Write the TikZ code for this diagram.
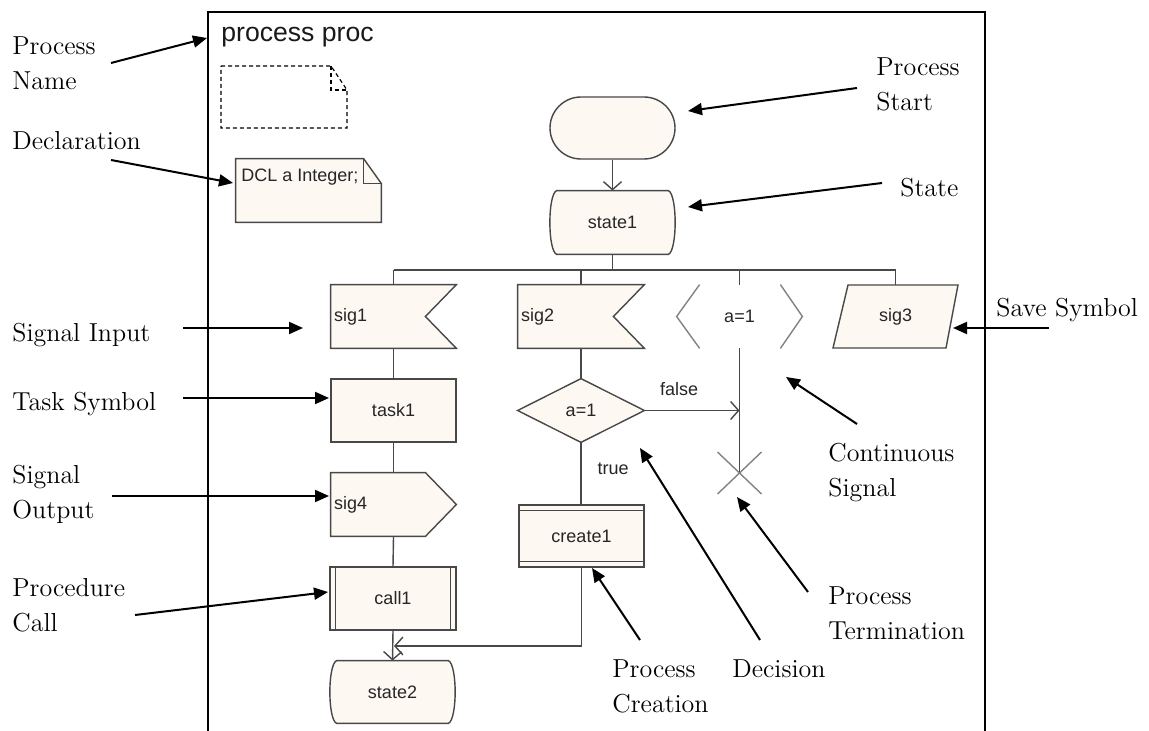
\documentclass[tikz,border=0pt]{standalone}
\usepackage{fontspec}
\newfontfamily\diagfont{Liberation Sans}
\usetikzlibrary{arrows.meta,shapes.geometric,calc}
\definecolor{cream}{RGB}{253,248,242}
\definecolor{edge}{RGB}{72,72,72}
\definecolor{lightedge}{RGB}{130,130,130}
\begin{document}
\begin{tikzpicture}[x=0.5pt,y=-0.5pt,
  lab/.style={anchor=north west,inner sep=0pt,align=left,font=\fontsize{13pt}{17.5pt}\selectfont},
  callout/.style={black,line width=1pt,-{Triangle[length=7pt,width=6pt]}},
  sym/.style={draw=edge,fill=cream,line width=0.7pt},
  conn/.style={draw=edge,line width=0.7pt},
  flow/.style={conn,-{Straight Barb[length=4pt,width=9pt]}},
  dtext/.style={font=\diagfont\fontsize{9pt}{11pt}\selectfont,text=black!85},
  holder/.style={inner sep=0pt,draw=none},
  boxnode/.style={sym,dtext,inner sep=0pt}]
\useasboundingbox (0,0) rectangle (1149,731);
\fill[white] (0,0) rectangle (1149,731);

% frame
\draw[black,line width=1pt] (208,731) -- (208,12) -- (985,12) -- (985,731);
\node[anchor=base west,inner sep=0pt,font=\diagfont\fontsize{13.3pt}{15pt}\selectfont,text=black!90] (title) at (221,42) {process proc};

% dashed empty text symbol
\draw[black,line width=0.6pt,dash pattern=on 2pt off 1.5pt] (221,66) -- (331,66) -- (347,90) -- (347,128) -- (221,128) -- cycle;
\draw[black,line width=0.6pt,dash pattern=on 2pt off 1.5pt] (331,66) -- (331,90) -- (347,90);

% declaration
\node[holder,minimum width=72.5pt,minimum height=31.5pt] (dcl) at (308.5,190.5) {};
\draw[sym] (dcl.north west) -- ++(128,0) -- ($(dcl.north east)+(0,25)$) -- (dcl.south east) -- (dcl.south west) -- cycle;
\draw[conn] ($(dcl.north west)+(128,0)$) -- ++(0,25) -- ($(dcl.north east)+(0,25)$);
\node[dtext,anchor=base west,inner sep=0pt] (dcltext) at (241,182) {DCL a Integer;};

% start
\node[sym,rounded corners=15.5pt,minimum width=62.5pt,minimum height=31pt,inner sep=0pt] (start) at (612.5,128) {};

% state1
\node[holder,minimum width=62.5pt,minimum height=31.5pt] (state1) at (612.5,222.5) {};
\draw[sym] ($(state1.north west)+(7,0)$) -- ($(state1.north east)+(-7,0)$)
  .. controls ($(state1.north east)+(2,4)$) and ($(state1.south east)+(2,-4)$) .. ($(state1.south east)+(-7,0)$)
  -- ($(state1.south west)+(7,0)$)
  .. controls ($(state1.south west)+(-2,-4)$) and ($(state1.north west)+(-2,4)$) .. cycle;
\node[dtext] (state1t) at (state1) {state1};
\draw[flow] (start.south) -- (state1.north);

% bus
\coordinate (busL) at (393.5,270);
\coordinate (busR) at (895.5,270);
\draw[conn] (busL) -- (busR);
\draw[conn] (state1.south) -- (state1.south |- busL);

% sig1
\node[holder,minimum width=62.5pt,minimum height=31.5pt] (sig1) at (393.5,316.5) {};
\draw[sym] (sig1.north west) -- (sig1.north east) -- ($(sig1.east)+(-31,0)$) -- (sig1.south east) -- (sig1.south west) -- cycle;
\node[dtext,anchor=west,inner sep=0pt] (sig1t) at ($(sig1.west)+(3,0)$) {sig1};
\draw[conn] (sig1.north |- busL) -- (sig1.north);

% sig2
\node[holder,minimum width=63pt,minimum height=31.5pt] (sig2) at (581,316.5) {};
\draw[sym] (sig2.north west) -- (sig2.north east) -- ($(sig2.east)+(-31,0)$) -- (sig2.south east) -- (sig2.south west) -- cycle;
\node[dtext,anchor=west,inner sep=0pt] (sig2t) at ($(sig2.west)+(3,0)$) {sig2};
\draw[conn] (sig2.north |- busL) -- (sig2.north);

% continuous signal
\node[holder,minimum width=62.5pt,minimum height=31.5pt] (cont) at (739.5,316.5) {};
\draw[lightedge,line width=0.7pt] ($(cont.north west)+(23,0)$) -- (cont.west) -- ($(cont.south west)+(23,0)$);
\draw[lightedge,line width=0.7pt] ($(cont.north east)+(-22,0)$) -- (cont.east) -- ($(cont.south east)+(-22,0)$);
\node[dtext] (contt) at (cont) {a=1};
\draw[conn] (cont.north |- busL) -- (cont.north);
\coordinate (term) at (739.5,473);
\draw[conn] (cont.south) -- (term);
\draw[lightedge,line width=0.7pt] (term) ++(-22,-21) -- ++(44,42);
\draw[lightedge,line width=0.7pt] (term) ++(22,-21) -- ++(-44,42);

% sig3 save
\node[holder,minimum width=62.5pt,minimum height=31.5pt] (sig3) at (895.5,316.5) {};
\draw[sym] (848,285) -- (958,285) -- (946,348) -- (833,348) -- cycle;
\node[dtext] (sig3t) at (sig3) {sig3};
\draw[conn] (busR) -- (sig3.north);

% task1
\node[boxnode,minimum width=62.5pt,minimum height=31.5pt] (task1) at (393.5,410.5) {task1};
\draw[conn] (sig1.south) -- (task1.north);

% decision
\node[holder,minimum width=63pt,minimum height=31.5pt] (dec) at (581,410.5) {};
\draw[sym] (dec.west) -- (dec.north) -- (dec.east) -- (dec.south) -- cycle;
\node[dtext] (dect) at (dec) {a=1};
\draw[conn] (sig2.south) -- (dec.north);
\draw[flow] (dec.east) -- (dec.east -| term);
\node[dtext] (falset) at (679,389) {false};

% sig4
\node[holder,minimum width=62.5pt,minimum height=31.5pt] (sig4) at (393.5,504.5) {};
\draw[sym] (sig4.north west) -- ($(sig4.north east)+(-31,0)$) -- (sig4.east) -- ($(sig4.south east)+(-31,0)$) -- (sig4.south west) -- cycle;
\node[dtext,anchor=west,inner sep=0pt] (sig4t) at ($(sig4.west)+(3,0)$) {sig4};
\draw[conn] (task1.south) -- (sig4.north);

% create1
\node[boxnode,minimum width=62.5pt,minimum height=31pt] (create1) at (581.5,536) {create1};
\draw[conn] ($(create1.north west)+(0,6)$) -- ($(create1.north east)+(0,6)$);
\draw[conn] ($(create1.south west)+(0,-6)$) -- ($(create1.south east)+(0,-6)$);
\draw[conn] (dec.south) -- (dec.south |- create1.north);
\node[dtext] (truet) at (613,469) {true};

% call1
\node[boxnode,minimum width=63pt,minimum height=31.5pt] (call1) at (393,598.5) {call1};
\draw[conn] ($(call1.north west)+(6,0)$) -- ($(call1.south west)+(6,0)$);
\draw[conn] ($(call1.north east)+(-6,0)$) -- ($(call1.south east)+(-6,0)$);
\draw[conn] (sig4.south) -- (call1.north);

% state2
\node[holder,minimum width=62.5pt,minimum height=31pt] (state2) at (392.5,692) {};
\draw[sym] ($(state2.north west)+(7,0)$) -- ($(state2.north east)+(-7,0)$)
  .. controls ($(state2.north east)+(2,4)$) and ($(state2.south east)+(2,-4)$) .. ($(state2.south east)+(-7,0)$)
  -- ($(state2.south west)+(7,0)$)
  .. controls ($(state2.south west)+(-2,-4)$) and ($(state2.north west)+(-2,4)$) .. cycle;
\node[dtext] (state2t) at (state2) {state2};
\draw[flow] (call1.south) -- (state2.north);
\coordinate (merge) at (394,646);
\draw[flow] (create1.south) |- (merge);

% callout labels
\node[lab] (lpn) at (12,36) {Process\\Name};
\node[lab] (ldecl) at (12,131) {Declaration};
\node[lab] (lsin) at (12,323) {Signal Input};
\node[lab] (ltask) at (12,392) {Task Symbol};
\node[lab] (lsout) at (12,465) {Signal\\Output};
\node[lab] (lproc) at (12,578) {Procedure\\Call};
\node[lab] (lstart) at (876,57) {Process\\Start};
\node[lab] (lstate) at (900,178) {State};
\node[lab] (lsave) at (996,298) {Save Symbol};
\node[lab] (lcont) at (828,443) {Continuous\\Signal};
\node[lab] (lterm) at (828,586) {Process\\Termination};
\node[lab] (ldec) at (732,659) {Decision};
\node[lab] (lcreate) at (612,659) {Process\\Creation};

\coordinate (a1s) at (111,63);  \coordinate (a1e) at (207,38);
\coordinate (a2s) at (111,160); \coordinate (a2e) at (233,183);
\coordinate (a3s) at (183,328); \coordinate (a3e) at (303,328);
\coordinate (a4s) at (183,398); \coordinate (a4e) at (329,398);
\coordinate (a5s) at (112,496); \coordinate (a5e) at (329,496);
\coordinate (a6s) at (135,615); \coordinate (a6e) at (328,592);
\coordinate (a7s) at (857,88);  \coordinate (a7e) at (688,111);
\coordinate (a8s) at (882,183); \coordinate (a8e) at (688,207);
\coordinate (a9s) at (1049,328); \coordinate (a9e) at (953,328);
\coordinate (a10s) at (857,424); \coordinate (a10e) at (786,377);
\coordinate (a11s) at (808,592); \coordinate (a11e) at (737,497);
\coordinate (a12s) at (760,640); \coordinate (a12e) at (640,448);
\coordinate (a13s) at (640,640); \coordinate (a13e) at (592,568);
\foreach \i in {1,...,13} {\draw[callout] (a\i s) -- (a\i e);}
\end{tikzpicture}
\end{document}
